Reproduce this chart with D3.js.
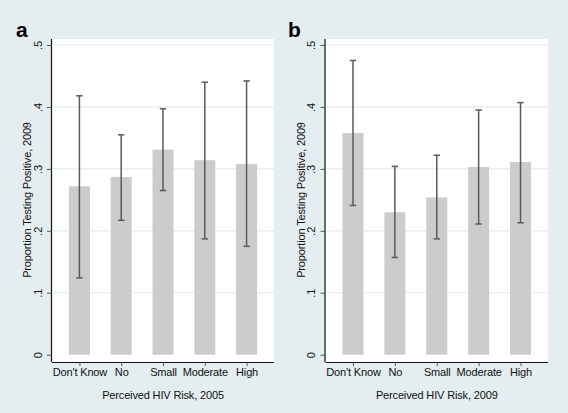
<!DOCTYPE html>
<html><head><meta charset="utf-8">
<script src="https://cdn.jsdelivr.net/npm/d3@7/dist/d3.min.js"></script>
<style>
html,body{margin:0;padding:0;background:#e4edf0;}
svg{display:block;font-family:"Liberation Sans",Arial,Helvetica,sans-serif;}
</style></head><body>
<svg id="chart" width="568" height="413"></svg>
<script>
const categories = ["Don't Know","No","Small","Moderate","High"];
const yTicks = [0,0.1,0.2,0.3,0.4,0.5];
const yTickLabels = ["0",".1",".2",".3",".4",".5"];

const meanA = [0.272,0.287,0.331,0.314,0.308];
const lowA  = [0.124,0.217,0.265,0.187,0.175];
const highA = [0.418,0.355,0.397,0.440,0.442];

const meanB = [0.358,0.230,0.254,0.303,0.311];
const lowB  = [0.241,0.157,0.187,0.211,0.213];
const highB = [0.475,0.304,0.322,0.395,0.407];

(function(){
const panels = [
  {label:"a", xTitle:"Perceived HIV Risk, 2005", mean:meanA, low:lowA, high:highA, left:52, right:274, labelX:16, titleX:31, tickLabX:41.5},
  {label:"b", xTitle:"Perceived HIV Risk, 2009", mean:meanB, low:lowB, high:highB, left:325.5, right:548, labelX:288, titleX:305, tickLabX:315}
];
const fs = "11px", ls = "-0.15px";

const svg = d3.select("#chart");
svg.append("rect").attr("width",568).attr("height",413).attr("fill","#e4edf0");

const plotTop = 39, plotBottom = 362;
const y = d3.scaleLinear().domain([0,0.5]).range([354.7,45]);

panels.forEach(p => {
  const g = svg.append("g");
  const x = d3.scalePoint().domain(categories).range([p.left,p.right]).padding(0.656);
  g.append("rect").attr("x",p.left).attr("y",plotTop).attr("width",p.right-p.left).attr("height",plotBottom-plotTop).attr("fill","#ffffff");
  g.selectAll(".grid").data(yTicks.slice(1)).enter().append("line")
    .attr("x1",p.left).attr("x2",p.right).attr("y1",d=>y(d)).attr("y2",d=>y(d))
    .attr("stroke","#e3ebee").attr("stroke-width",1.2);
  const bw = 21;
  g.selectAll(".bar").data(p.mean).enter().append("rect")
    .attr("x",(d,i)=>x(categories[i])-bw/2).attr("width",bw)
    .attr("y",d=>y(d)).attr("height",d=>y(0)-y(d))
    .attr("fill","#cccccc");
  const cap = 3.2;
  categories.forEach((c,i) => {
    const cx = x(c);
    g.append("line").attr("x1",cx).attr("x2",cx).attr("y1",y(p.low[i])).attr("y2",y(p.high[i]))
      .attr("stroke","#5a5a5a").attr("stroke-width",1.5);
    [p.low[i],p.high[i]].forEach(v => {
      g.append("line").attr("x1",cx-cap).attr("x2",cx+cap).attr("y1",y(v)).attr("y2",y(v))
        .attr("stroke","#5a5a5a").attr("stroke-width",1.5);
    });
  });
  const xAxis = d3.axisBottom(x).tickSize(4).tickSizeOuter(0);
  const xg = g.append("g").attr("transform",`translate(0,${plotBottom})`).call(xAxis);
  xg.attr("font-family",null);
  xg.select(".domain").attr("d",`M${p.left},0.5H${p.right}`).attr("stroke","#111").attr("stroke-width",1.2);
  xg.selectAll(".tick line").attr("stroke","#555");
  xg.selectAll(".tick text").attr("font-size",fs).attr("letter-spacing",ls).attr("fill","#111").attr("y",13.7).attr("dy",null);
  const yAxis = d3.axisLeft(y).tickValues(yTicks).tickFormat((d,i)=>yTickLabels[i]).tickSize(5).tickSizeOuter(0);
  const yg = g.append("g").attr("transform",`translate(${p.left},0)`).call(yAxis);
  yg.attr("font-family",null);
  yg.select(".domain").attr("d",`M-0.5,${plotTop}V${plotBottom}`).attr("stroke","#111").attr("stroke-width",1.2);
  yg.selectAll(".tick line").attr("stroke","#555");
  yg.selectAll(".tick text").attr("font-size",fs).attr("fill","#111")
    .attr("x",null).attr("dy",null).attr("y",null)
    .attr("text-anchor","middle")
    .attr("transform",`translate(${p.tickLabX-p.left},0) rotate(-90)`);
  g.append("text").attr("transform",`translate(${p.titleX},200) rotate(-90)`)
    .attr("text-anchor","middle").attr("letter-spacing",ls)
    .attr("font-size",fs).attr("fill","#111").text("Proportion Testing Positive, 2009");
  g.append("text").attr("x",(p.left+p.right)/2).attr("y",398.5).attr("letter-spacing",ls)
    .attr("text-anchor","middle").attr("font-size",fs).attr("fill","#111").text(p.xTitle);
  g.append("text").attr("x",p.labelX).attr("y",36.5).attr("font-size","21px").attr("font-weight","bold")
    .attr("fill","#000").text(p.label);
});
})();
</script>
</body></html>
